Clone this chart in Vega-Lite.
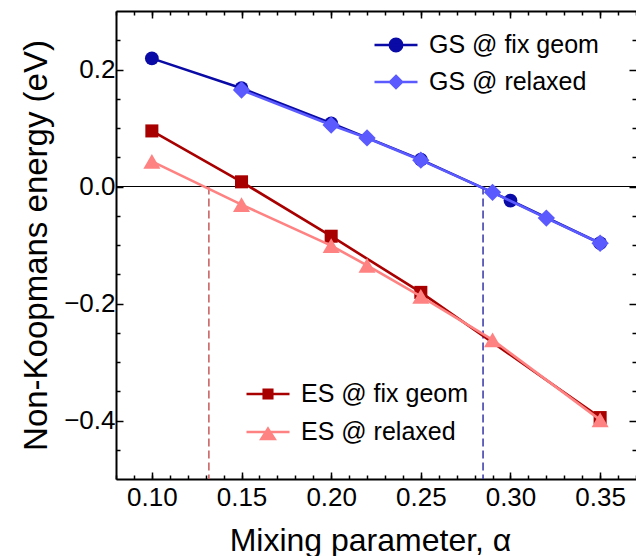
{
  "$schema": "https://vega.github.io/schema/vega-lite/v6.json",
  "width": 520,
  "height": 468,
  "autosize": {"type": "none"},
  "padding": {"left": 116, "top": 11, "right": 0, "bottom": 77},
  "background": "white",
  "config": {
    "view": {"stroke": null},
    "font": "Liberation Sans",
    "axis": {"grid": false, "tickColor": "black", "domainColor": "black", "labelColor": "black", "titleColor": "black", "titleFontWeight": "normal"}
  },
  "datasets": {
    "pts": [
      {"series": "GS @ fix geom", "alpha": 0.10, "E": 0.219},
      {"series": "GS @ fix geom", "alpha": 0.15, "E": 0.168},
      {"series": "GS @ fix geom", "alpha": 0.20, "E": 0.108},
      {"series": "GS @ fix geom", "alpha": 0.25, "E": 0.046},
      {"series": "GS @ fix geom", "alpha": 0.30, "E": -0.024},
      {"series": "GS @ fix geom", "alpha": 0.35, "E": -0.097},
      {"series": "GS @ relaxed", "alpha": 0.15, "E": 0.165},
      {"series": "GS @ relaxed", "alpha": 0.20, "E": 0.105},
      {"series": "GS @ relaxed", "alpha": 0.22, "E": 0.083},
      {"series": "GS @ relaxed", "alpha": 0.25, "E": 0.045},
      {"series": "GS @ relaxed", "alpha": 0.29, "E": -0.010},
      {"series": "GS @ relaxed", "alpha": 0.32, "E": -0.054},
      {"series": "GS @ relaxed", "alpha": 0.35, "E": -0.097},
      {"series": "ES @ fix geom", "alpha": 0.10, "E": 0.095},
      {"series": "ES @ fix geom", "alpha": 0.15, "E": 0.008},
      {"series": "ES @ fix geom", "alpha": 0.20, "E": -0.085},
      {"series": "ES @ fix geom", "alpha": 0.25, "E": -0.181},
      {"series": "ES @ fix geom", "alpha": 0.35, "E": -0.395},
      {"series": "ES @ relaxed", "alpha": 0.10, "E": 0.043},
      {"series": "ES @ relaxed", "alpha": 0.15, "E": -0.031},
      {"series": "ES @ relaxed", "alpha": 0.20, "E": -0.101},
      {"series": "ES @ relaxed", "alpha": 0.22, "E": -0.135},
      {"series": "ES @ relaxed", "alpha": 0.25, "E": -0.188},
      {"series": "ES @ relaxed", "alpha": 0.29, "E": -0.262},
      {"series": "ES @ relaxed", "alpha": 0.35, "E": -0.399}
    ],
    "cross": [
      {"alpha": 0.1318, "E": 0, "grp": "ES"},
      {"alpha": 0.2847, "E": 0, "grp": "GS"}
    ],
    "zero": [{"E": 0}]
  },
  "layer": [
    {
      "data": {"name": "zero"},
      "mark": {"type": "rule", "color": "black", "strokeWidth": 1.2},
      "encoding": {
        "y": {"field": "E", "type": "quantitative", "scale": {"domain": [-0.5, 0.3], "nice": false, "zero": false}, "axis": null}
      }
    },
    {
      "data": {"name": "cross"},
      "mark": {"type": "rule", "strokeWidth": 1.5, "strokeDash": [8, 4]},
      "encoding": {
        "x": {"field": "alpha", "type": "quantitative", "scale": {"domain": [0.08, 0.37], "nice": false, "zero": false}, "axis": null},
        "y": {"field": "E", "type": "quantitative", "scale": {"domain": [-0.5, 0.3], "nice": false, "zero": false}, "axis": null},
        "y2": {"datum": -0.5},
        "color": {"field": "grp", "type": "nominal", "scale": {"domain": ["ES", "GS"], "range": ["#c85a5a", "#3535a8"]}, "legend": null}
      }
    },
    {
      "data": {"name": "pts"},
      "transform": [{"filter": "datum.series === 'GS @ fix geom'"}],
      "mark": {"type": "line", "color": "#0a0aa6", "strokeWidth": 2.6},
      "encoding": {
        "x": {"field": "alpha", "type": "quantitative", "scale": {"domain": [0.08, 0.37], "nice": false, "zero": false},
          "axis": {"orient": "bottom", "values": [0.1, 0.15, 0.2, 0.25, 0.3, 0.35], "format": ".2f", "tickSize": -7, "tickWidth": 1.5, "domain": true, "domainWidth": 2, "labelFont": "Liberation Sans", "labelFontSize": 26, "labelPadding": 12, "labelFlush": false, "labelOverlap": false, "title": "Mixing parameter, α", "titleFont": "Liberation Sans", "titleFontSize": 32, "titlePadding": 15, "titleX": 254}},
        "y": {"field": "E", "type": "quantitative", "scale": {"domain": [-0.5, 0.3], "nice": false, "zero": false},
          "axis": {"orient": "left", "values": [-0.4, -0.2, 0, 0.2], "format": ".1f", "tickSize": -7, "tickWidth": 1.5, "domain": true, "domainWidth": 2, "labelFont": "Liberation Sans", "labelFontSize": 26, "labelPadding": 8, "labelFlush": false, "labelOverlap": false, "title": "Non-Koopmans energy (eV)", "titleFont": "Liberation Sans", "titleFontSize": 33, "titlePadding": 10}}
      }
    },
    {
      "data": {"name": "pts"},
      "transform": [{"filter": "datum.series === 'GS @ fix geom'"}],
      "mark": {"type": "point", "filled": true, "opacity": 1, "shape": "circle", "size": 190, "color": "#0a0aa6"},
      "encoding": {
        "x": {"field": "alpha", "type": "quantitative", "scale": {"domain": [0.08, 0.37], "nice": false, "zero": false},
          "axis": {"orient": "bottom", "values": [0.08, 0.09, 0.1, 0.11, 0.12, 0.13, 0.14, 0.15, 0.16, 0.17, 0.18, 0.19, 0.2, 0.21, 0.22, 0.23, 0.24, 0.25, 0.26, 0.27, 0.28, 0.29, 0.3, 0.31, 0.32, 0.33, 0.34, 0.35, 0.36, 0.37], "tickSize": -4, "tickWidth": 1.5, "domain": false, "labels": false, "title": null}},
        "y": {"field": "E", "type": "quantitative", "scale": {"domain": [-0.5, 0.3], "nice": false, "zero": false},
          "axis": {"orient": "left", "values": [-0.45, -0.35, -0.3, -0.25, -0.15, -0.1, -0.05, 0.05, 0.1, 0.15, 0.25], "tickSize": -4, "tickWidth": 1.5, "domain": false, "labels": false, "title": null}}
      }
    },
    {
      "data": {"name": "pts"},
      "transform": [{"filter": "datum.series === 'GS @ relaxed'"}],
      "mark": {"type": "line", "color": "#5a5aff", "strokeWidth": 2.6},
      "encoding": {
        "x": {"field": "alpha", "type": "quantitative", "scale": {"domain": [0.08, 0.37], "nice": false, "zero": false},
          "axis": {"orient": "top", "values": [0.1, 0.15, 0.2, 0.25, 0.3, 0.35], "tickSize": -7, "tickWidth": 1.5, "domain": true, "domainWidth": 2, "labels": false, "title": null}},
        "y": {"field": "E", "type": "quantitative", "scale": {"domain": [-0.5, 0.3], "nice": false, "zero": false},
          "axis": {"orient": "right", "values": [-0.4, -0.2, 0, 0.2], "tickSize": -7, "tickWidth": 1.5, "domain": false, "labels": false, "title": null}}
      }
    },
    {
      "data": {"name": "pts"},
      "transform": [{"filter": "datum.series === 'GS @ relaxed'"}],
      "mark": {"type": "point", "filled": true, "opacity": 1, "shape": "diamond", "size": 300, "color": "#5a5aff"},
      "encoding": {
        "x": {"field": "alpha", "type": "quantitative", "scale": {"domain": [0.08, 0.37], "nice": false, "zero": false},
          "axis": {"orient": "top", "values": [0.08, 0.09, 0.1, 0.11, 0.12, 0.13, 0.14, 0.15, 0.16, 0.17, 0.18, 0.19, 0.2, 0.21, 0.22, 0.23, 0.24, 0.25, 0.26, 0.27, 0.28, 0.29, 0.3, 0.31, 0.32, 0.33, 0.34, 0.35, 0.36, 0.37], "tickSize": -4, "tickWidth": 1.5, "domain": false, "labels": false, "title": null}},
        "y": {"field": "E", "type": "quantitative", "scale": {"domain": [-0.5, 0.3], "nice": false, "zero": false},
          "axis": {"orient": "right", "values": [-0.45, -0.35, -0.3, -0.25, -0.15, -0.1, -0.05, 0.05, 0.1, 0.15, 0.25], "tickSize": -4, "tickWidth": 1.5, "domain": false, "labels": false, "title": null}}
      }
    },
    {
      "data": {"name": "pts"},
      "transform": [{"filter": "datum.series === 'ES @ fix geom'"}],
      "mark": {"type": "line", "color": "#a80000", "strokeWidth": 2.6},
      "encoding": {
        "x": {"field": "alpha", "type": "quantitative", "scale": {"domain": [0.08, 0.37], "nice": false, "zero": false}, "axis": null},
        "y": {"field": "E", "type": "quantitative", "scale": {"domain": [-0.5, 0.3], "nice": false, "zero": false}, "axis": null}
      }
    },
    {
      "data": {"name": "pts"},
      "transform": [{"filter": "datum.series === 'ES @ fix geom'"}],
      "mark": {"type": "point", "filled": true, "opacity": 1, "shape": "square", "size": 170, "color": "#a80000"},
      "encoding": {
        "x": {"field": "alpha", "type": "quantitative", "scale": {"domain": [0.08, 0.37], "nice": false, "zero": false}, "axis": null},
        "y": {"field": "E", "type": "quantitative", "scale": {"domain": [-0.5, 0.3], "nice": false, "zero": false}, "axis": null}
      }
    },
    {
      "data": {"name": "pts"},
      "transform": [{"filter": "datum.series === 'ES @ relaxed'"}],
      "mark": {"type": "line", "color": "#ff8282", "strokeWidth": 2.6},
      "encoding": {
        "x": {"field": "alpha", "type": "quantitative", "scale": {"domain": [0.08, 0.37], "nice": false, "zero": false}, "axis": null},
        "y": {"field": "E", "type": "quantitative", "scale": {"domain": [-0.5, 0.3], "nice": false, "zero": false}, "axis": null}
      }
    },
    {
      "data": {"name": "pts"},
      "transform": [{"filter": "datum.series === 'ES @ relaxed'"}],
      "mark": {"type": "point", "filled": true, "opacity": 1, "shape": "triangle-up", "size": 290, "color": "#ff8282"},
      "encoding": {
        "x": {"field": "alpha", "type": "quantitative", "scale": {"domain": [0.08, 0.37], "nice": false, "zero": false}, "axis": null},
        "y": {"field": "E", "type": "quantitative", "scale": {"domain": [-0.5, 0.3], "nice": false, "zero": false}, "axis": null}
      }
    },
    {
      "data": {"name": "pts"},
      "transform": [{"filter": "datum.series === 'GS @ fix geom' || datum.series === 'GS @ relaxed'"}],
      "mark": {"type": "point", "filled": true, "opacity": 0, "strokeWidth": 2.5},
      "encoding": {
        "x": {"field": "alpha", "type": "quantitative", "scale": {"domain": [0.08, 0.37], "nice": false, "zero": false}, "axis": null},
        "y": {"field": "E", "type": "quantitative", "scale": {"domain": [-0.5, 0.3], "nice": false, "zero": false}, "axis": null},
        "fill": {"field": "series", "type": "nominal", "scale": {"domain": ["GS @ fix geom", "GS @ relaxed"], "range": ["#0a0aa6", "#5a5aff"]},
          "legend": {"orient": "none", "legendX": 257, "legendY": 11, "title": null, "padding": 0, "symbolSize": 1849, "symbolStrokeWidth": 2.5, "symbolOpacity": 1, "labelFont": "Liberation Sans", "labelFontSize": 25, "labelColor": "black", "labelOffset": 10, "rowPadding": 1, "labelLimit": 400, "encode": {"symbols": {"update": {"opacity": {"value": 1}, "strokeWidth": {"value": 2.5}}}}}},
        "stroke": {"field": "series", "type": "nominal", "scale": {"domain": ["GS @ fix geom", "GS @ relaxed"], "range": ["#0a0aa6", "#5a5aff"]},
          "legend": {"orient": "none", "legendX": 257, "legendY": 11, "title": null, "padding": 0, "symbolSize": 1849, "symbolStrokeWidth": 2.5, "symbolOpacity": 1, "labelFont": "Liberation Sans", "labelFontSize": 25, "labelColor": "black", "labelOffset": 10, "rowPadding": 1, "labelLimit": 400, "encode": {"symbols": {"update": {"opacity": {"value": 1}, "strokeWidth": {"value": 2.5}}}}}},
        "shape": {"field": "series", "type": "nominal", "scale": {"domain": ["GS @ fix geom", "GS @ relaxed"], "range": ["M-1,0H1M0.29,0A0.29,0.29,0,1,1,-0.29,0A0.29,0.29,0,1,1,0.29,0Z", "M-1,0H1M0,-0.28L0.28,0L0,0.28L-0.28,0Z"]},
          "legend": {"orient": "none", "legendX": 257, "legendY": 11, "title": null, "padding": 0, "symbolSize": 1849, "symbolStrokeWidth": 2.5, "symbolOpacity": 1, "labelFont": "Liberation Sans", "labelFontSize": 25, "labelColor": "black", "labelOffset": 10, "rowPadding": 1, "labelLimit": 400, "encode": {"symbols": {"update": {"opacity": {"value": 1}, "strokeWidth": {"value": 2.5}}}}}}
      }
    },
    {
      "data": {"name": "pts"},
      "transform": [{"filter": "datum.series === 'ES @ fix geom' || datum.series === 'ES @ relaxed'"}],
      "mark": {"type": "point", "filled": true, "opacity": 0, "strokeWidth": 2.5},
      "encoding": {
        "x": {"field": "alpha", "type": "quantitative", "scale": {"domain": [0.08, 0.37], "nice": false, "zero": false}, "axis": null},
        "y": {"field": "E", "type": "quantitative", "scale": {"domain": [-0.5, 0.3], "nice": false, "zero": false}, "axis": null},
        "fill": {"field": "series", "type": "nominal", "scale": {"domain": ["ES @ fix geom", "ES @ relaxed"], "range": ["#a80000", "#ff8282"]},
          "legend": {"orient": "none", "legendX": 129, "legendY": 360, "title": null, "padding": 0, "symbolSize": 1849, "symbolStrokeWidth": 2.5, "symbolOpacity": 1, "labelFont": "Liberation Sans", "labelFontSize": 25, "labelColor": "black", "labelOffset": 10, "rowPadding": 2, "labelLimit": 400, "encode": {"symbols": {"update": {"opacity": {"value": 1}, "strokeWidth": {"value": 2.5}}}}}},
        "stroke": {"field": "series", "type": "nominal", "scale": {"domain": ["ES @ fix geom", "ES @ relaxed"], "range": ["#a80000", "#ff8282"]},
          "legend": {"orient": "none", "legendX": 129, "legendY": 360, "title": null, "padding": 0, "symbolSize": 1849, "symbolStrokeWidth": 2.5, "symbolOpacity": 1, "labelFont": "Liberation Sans", "labelFontSize": 25, "labelColor": "black", "labelOffset": 10, "rowPadding": 2, "labelLimit": 400, "encode": {"symbols": {"update": {"opacity": {"value": 1}, "strokeWidth": {"value": 2.5}}}}}},
        "shape": {"field": "series", "type": "nominal", "scale": {"domain": ["ES @ fix geom", "ES @ relaxed"], "range": ["M-1,0H1M-0.2,-0.2H0.2V0.2H-0.2Z", "M-1,0H1M0,-0.16L0.31,0.32H-0.31Z"]},
          "legend": {"orient": "none", "legendX": 129, "legendY": 360, "title": null, "padding": 0, "symbolSize": 1849, "symbolStrokeWidth": 2.5, "symbolOpacity": 1, "labelFont": "Liberation Sans", "labelFontSize": 25, "labelColor": "black", "labelOffset": 10, "rowPadding": 2, "labelLimit": 400, "encode": {"symbols": {"update": {"opacity": {"value": 1}, "strokeWidth": {"value": 2.5}}}}}}
      }
    }
  ],
  "resolve": {
    "scale": {"fill": "independent", "stroke": "independent", "shape": "independent"},
    "axis": {"x": "independent", "y": "independent"}
  }
}
